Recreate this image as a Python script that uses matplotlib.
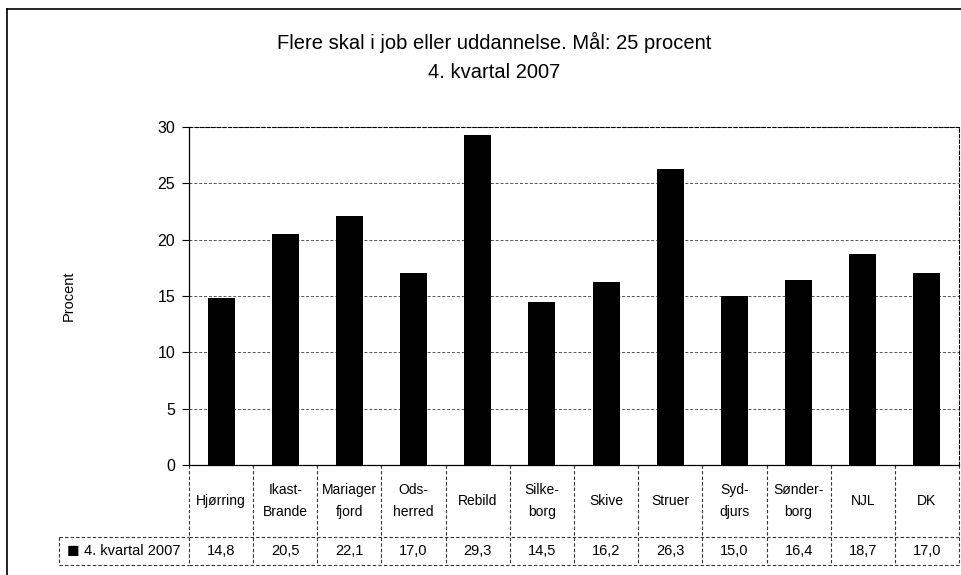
import numpy as np
import matplotlib.pyplot as plt
from matplotlib.lines import Line2D

plt.rcParams['font.family'] = ['Liberation Sans', 'DejaVu Sans']

# data
categories = ["Hjørring", "Ikast-\nBrande", "Mariager\nfjord", "Ods-\nherred", "Rebild",
              "Silke-\nborg", "Skive", "Struer", "Syd-\ndjurs", "Sønder-\nborg", "NJL", "DK"]
values = [14.8, 20.5, 22.1, 17.0, 29.3, 14.5, 16.2, 26.3, 15.0, 16.4, 18.7, 17.0]
series_name = "4. kvartal 2007"
yticks = [0, 5, 10, 15, 20, 25, 30]

W, H = 961, 575
fig = plt.figure(figsize=(W / 100, H / 100), dpi=100)

# plot area in pixels
left, right, top, bottom = 189, 959, 127, 465
ax = fig.add_axes([left / W, 1 - bottom / H, (right - left) / W, (bottom - top) / H])

x = np.arange(len(categories))
ax.bar(x, values, width=0.42, color="black", zorder=3)
ax.set_xlim(-0.5, len(categories) - 0.5)
ax.set_ylim(0, 30)
ax.set_yticks(yticks)
ax.set_yticklabels([str(t) for t in yticks], fontsize=11.5)
ax.set_xticks([])
ax.tick_params(axis="y", length=5, width=0.8, pad=5)
ax.yaxis.grid(True, color="#555555", linestyle=(0, (3, 2)), linewidth=0.7, zorder=0)
for s in ["top", "right"]:
    ax.spines[s].set_linestyle((0, (3, 2)))
    ax.spines[s].set_linewidth(0.8)
ax.spines["left"].set_linewidth(0.9)
ax.spines["bottom"].set_linewidth(0.9)

ax.set_ylabel("Procent", fontsize=10.5)
ax.yaxis.set_label_coords((76 - left) / (right - left), 0.5)

# data table below the axis
ph = bottom - top
row1 = -(537 - bottom) / ph
row2 = -(565 - bottom) / ph
legx = (59 - left) / (right - left)
tf = ax.get_xaxis_transform()
lkw = dict(color="#333333", linewidth=0.8, linestyle=(0, (3, 2)), clip_on=False)

for i in range(len(categories) + 1):
    ax.add_line(Line2D([i - 0.5, i - 0.5], [0, row2], transform=tf, **lkw))
ax.add_line(Line2D([-0.5, len(categories) - 0.5], [row1, row1], transform=tf, **lkw))
ax.add_line(Line2D([-0.5, len(categories) - 0.5], [row2, row2], transform=tf, **lkw))
ax.add_line(Line2D([legx, 0], [row1, row1], transform=ax.transAxes, **lkw))
ax.add_line(Line2D([legx, 0], [row2, row2], transform=ax.transAxes, **lkw))
ax.add_line(Line2D([legx, legx], [row1, row2], transform=ax.transAxes, **lkw))

for i, (c, v) in enumerate(zip(categories, values)):
    ax.text(i, row1 / 2, c, transform=tf, ha="center", va="center",
            fontsize=10, linespacing=1.7)
    ax.text(i, (row1 + row2) / 2, f"{v:.1f}".replace(".", ","), transform=tf,
            ha="center", va="center", fontsize=10.5)

ax.text(legx + 0.010, (row1 + row2) / 2, "\u25A0", transform=ax.transAxes,
        ha="left", va="center", fontsize=15)
ax.text(legx + 0.032, (row1 + row2) / 2, series_name, transform=ax.transAxes,
        ha="left", va="center", fontsize=10.5)

# title
fig.text(494 / W, 1 - 42 / H, "Flere skal i job eller uddannelse. Mål: 25 procent",
         ha="center", va="center", fontsize=14.5)
fig.text(494 / W, 1 - 72 / H, "4. kvartal 2007", ha="center", va="center", fontsize=14.5)

# outer chart frame
fig.add_artist(Line2D([7 / W, 7 / W], [0, 1 - 9 / H], transform=fig.transFigure,
                      color="black", linewidth=1.2))
fig.add_artist(Line2D([7 / W, 1], [1 - 9 / H, 1 - 9 / H], transform=fig.transFigure,
                      color="black", linewidth=1.2))

fig.savefig("out.png", dpi=100)
